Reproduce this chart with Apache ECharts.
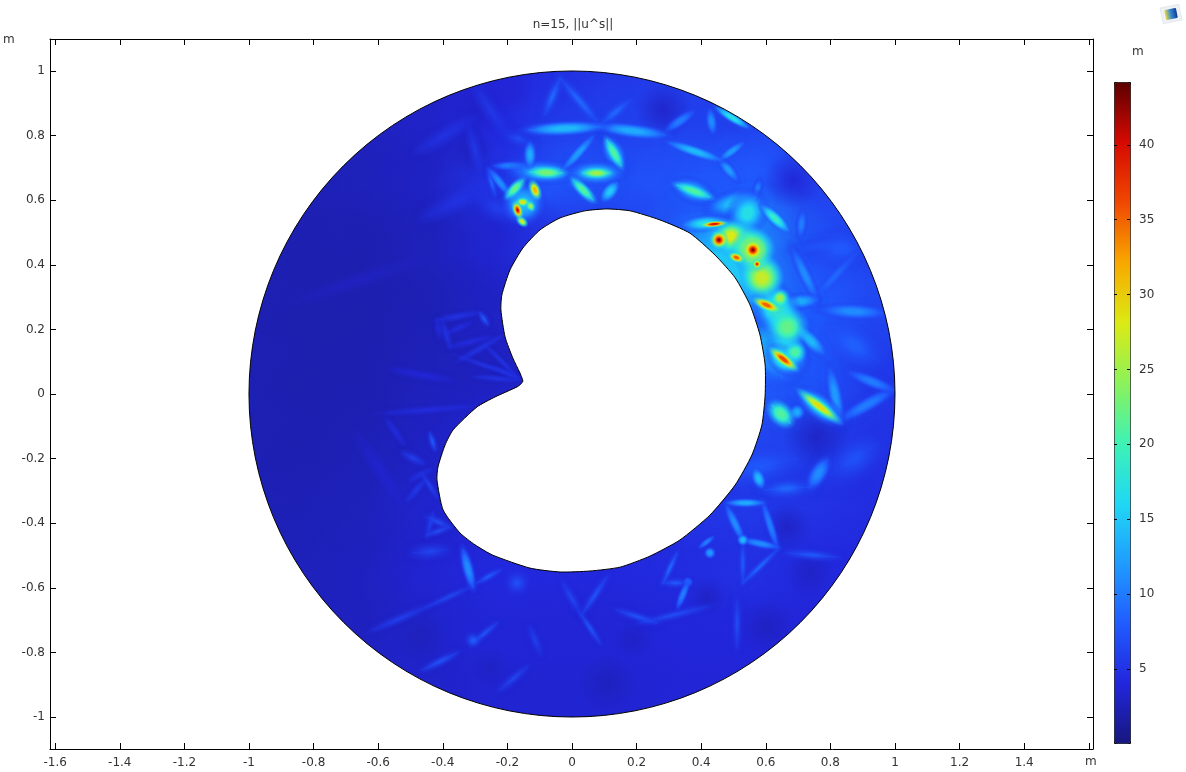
<!DOCTYPE html>
<html><head><meta charset="utf-8">
<style>html,body{margin:0;padding:0;background:#fff}#c{width:1186px;height:772px}</style>
<script src="https://cdn.jsdelivr.net/npm/echarts@6/dist/echarts.min.js"></script>
</head><body><div id="c"></div>
<script>
// ---- axes ----
const xTicks=[-1.6,-1.4,-1.2,-1,-0.8,-0.6,-0.4,-0.2,0,0.2,0.4,0.6,0.8,1,1.2,1.4,1.6];
const xLabels=[-1.6,-1.4,-1.2,-1,-0.8,-0.6,-0.4,-0.2,0,0.2,0.4,0.6,0.8,1,1.2,1.4];
const yTicks=[-1,-0.8,-0.6,-0.4,-0.2,0,0.2,0.4,0.6,0.8,1];
const barTicks=[5,10,15,20,25,30,35,40];
const valueMin=0.05, valueMax=44.2;
const rainbow=['#17177f','#2226dc','#205cff','#1f9cff','#20d8f4','#3ef2b4','#8cf25a','#dcea14','#f8a800','#f04800','#d60a00','#5c0000'];
// ---- coarse field, read on a 0.2 m grid (null = outside the disc) ----
const fieldX=[-1,-0.8,-0.6,-0.4,-0.2,0,0.2,0.4,0.6,0.8,1];
const fieldY=[1,0.8,0.6,0.4,0.2,0,-0.2,-0.4,-0.6,-0.8,-1];
const fieldRows=[
[null,null,null,3.2,3.8,4.5,5,5.5,null,null,null],
[null,null,2.8,3.2,4,5.5,6,6,6,6,null],
[null,2.4,2.6,3,5,7.5,7,7.5,8,6,null],
[2.4,2.2,2.2,2.6,3.5,5,6,9,11,7,6],
[2.4,2.1,2.1,2.4,3,4,6,8,10,8,6.5],
[2.4,2.1,2.2,2.6,2.8,3.5,5,7,8.5,7.5,5.5],
[2.4,2.2,2.4,3,3.5,3.5,4.5,5,6.5,6,5],
[2.4,2.4,2.6,3.4,3.6,3.6,4.5,5,5.5,5,4.5],
[null,2.6,2.8,3.6,4.2,4.2,4.2,4.5,4.8,4.2,null],
[null,null,2.8,3.4,3.8,3.8,3.8,4,4,3.8,null],
[null,null,null,3.2,3.6,3.6,3.6,3.8,3.8,null,null]];
// ---- inner boundary ----
const holeX=[-0.155,-0.161,-0.183,-0.207,-0.22,-0.217,-0.192,-0.152,-0.099,-0.037,0.04,0.108,0.18,0.272,0.365,0.443,0.505,0.551,0.582,0.598,0.598,0.588,0.557,0.505,0.427,0.334,0.241,0.149,0.056,-0.037,-0.13,-0.245,-0.3,-0.347,-0.399,-0.418,-0.415,-0.393,-0.368,-0.294,-0.238,-0.17,-0.158,-0.152];
const holeY=[0.05,0.065,0.111,0.176,0.26,0.307,0.384,0.452,0.508,0.545,0.567,0.573,0.567,0.539,0.498,0.43,0.36,0.276,0.183,0.09,-0.003,-0.096,-0.189,-0.282,-0.375,-0.452,-0.502,-0.536,-0.548,-0.551,-0.539,-0.499,-0.467,-0.43,-0.359,-0.266,-0.226,-0.158,-0.111,-0.04,-0.009,0.022,0.031,0.04];
// ---- local features of the field: x1,y1,x2,y2,half width (m),peak value ----
const ridgesTop=[
[-0.133,0.817,0.087,0.827,0.018,14],[0.087,0.827,0.288,0.802,0.018,13],[0.087,0.833,-0.037,0.978,0.016,9],[0.087,0.833,0.18,0.91,0.016,9],[-0.037,0.978,-0.084,0.864,0.016,9],
[0.108,0.786,0.152,0.706,0.028,12],[0.108,0.786,0.152,0.706,0.016,21],[0,0.684,0.15,0.684,0.03,13],[0.034,0.684,0.118,0.684,0.016,25],[-0.18,0.69,0,0.684,0.03,12],[-0.13,0.687,-0.028,0.684,0.018,23],
[0.003,0.663,0.065,0.601,0.016,21],[0.139,0.653,0.096,0.601,0.018,15],[-0.152,0.662,-0.201,0.61,0.016,22],[-0.124,0.656,-0.105,0.607,0.016,31],[-0.176,0.591,-0.161,0.548,0.014,43],
[-0.17,0.594,-0.136,0.594,0.013,29],[-0.136,0.594,-0.121,0.57,0.012,25],[-0.167,0.545,-0.142,0.523,0.012,27],[-0.15,0.59,-0.15,0.59,0.05,14],
[-0.238,0.706,-0.13,0.706,0.012,11],[-0.254,0.693,-0.192,0.616,0.012,11],[-0.26,0.693,-0.238,0.616,0.01,9],[-0.13,0.777,-0.13,0.703,0.016,13],[-0.028,0.693,0.065,0.796,0.013,12],
[0.303,0.777,0.458,0.725,0.014,14],[0.458,0.725,0.511,0.663,0.014,12],[0.325,0.647,0.427,0.61,0.03,13],[0.325,0.647,0.427,0.61,0.016,21],[0.458,0.725,0.53,0.777,0.012,12],[0.427,0.879,0.437,0.808,0.014,11],[0.449,0.885,0.542,0.827,0.012,17],[0.294,0.817,0.375,0.873,0.014,10],
[-0.47,0.755,-0.316,0.848,0.02,5],[-0.316,0.817,-0.285,0.693,0.016,5.5],[-0.3,0.95,-0.2,0.8,0.02,5.5],[-0.2,0.8,-0.13,0.78,0.02,7],[-0.45,0.55,-0.25,0.65,0.025,5],[-0.28,0.6,-0.18,0.55,0.03,6],
[-0.3,0.88,-0.3,0.88,0.06,3.2],[-0.19,0.94,-0.19,0.94,0.05,3.8],[-0.316,0.755,-0.316,0.755,0.05,2.8],[0.282,0.879,0.282,0.879,0.06,3.2],[0.684,0.663,0.684,0.663,0.06,3.8]];
const ridgesHot=[
[0.567,0.61,0.427,0.57,0.03,14],[0.567,0.61,0.582,0.663,0.012,10],[0.591,0.579,0.666,0.508,0.016,19],[0.567,0.61,0.52,0.51,0.045,17],[0.715,0.567,0.706,0.485,0.014,10],
[0.35,0.53,0.6,0.25,0.09,15],[0.6,0.25,0.65,0.05,0.08,14],[0.44,0.5,0.6,0.45,0.05,23],[0.55,0.42,0.62,0.33,0.05,26],[0.6,0.32,0.67,0.2,0.05,20],[0.63,0.18,0.7,0.08,0.045,18],
[0.35,0.523,0.474,0.533,0.02,17],[0.406,0.523,0.474,0.529,0.009,39],[0.455,0.477,0.53,0.5,0.04,28],[0.455,0.477,0.455,0.477,0.024,45],[0.56,0.446,0.56,0.446,0.055,28],[0.56,0.446,0.56,0.446,0.026,45],
[0.489,0.43,0.529,0.415,0.014,35],[0.573,0.402,0.573,0.402,0.012,37],[0.588,0.359,0.588,0.359,0.055,27],[0.567,0.291,0.638,0.26,0.016,35],[0.644,0.297,0.644,0.297,0.025,25],
[0.666,0.207,0.666,0.207,0.055,22],[0.619,0.136,0.69,0.08,0.032,20],[0.619,0.136,0.69,0.08,0.016,36],[0.69,0.13,0.69,0.13,0.03,21],[0.712,0.003,0.82,-0.08,0.03,15],[0.712,0.003,0.82,-0.08,0.017,29],[0.619,-0.034,0.675,-0.09,0.03,21],[0.697,-0.056,0.697,-0.056,0.02,13]];
const ridgesRight=[
[0.684,0.446,0.759,0.291,0.016,11],[0.759,0.291,0.653,0.282,0.02,13],[0.684,0.446,0.839,0.467,0.02,8],[0.882,0.437,0.746,0.291,0.016,9],[0.963,0.251,0.777,0.26,0.02,11],[0.697,0.207,0.777,0.127,0.02,14],
[0.83,-0.08,0.994,0.012,0.018,10],[0.83,-0.08,0.799,0.074,0.018,12],[0.861,0.065,0.994,0.012,0.016,10],[0.551,0.322,0.613,0.207,0.024,13],
[0.75,0.45,0.92,0.45,0.05,8],[0.8,0.2,0.95,0.1,0.05,8.5],[0.8,-0.25,0.95,-0.15,0.05,7.5],[0.45,-0.25,0.7,-0.2,0.05,8],
[0.758,-0.133,0.758,-0.133,0.07,3],[0.666,-0.412,0.666,-0.412,0.05,3],[0.737,-0.554,0.737,-0.554,0.05,3],[0.604,-0.721,0.604,-0.721,0.06,2.8],[0.418,-0.628,0.418,-0.628,0.04,3]];
const ridgesLowerRight=[
[0.483,-0.337,0.591,-0.337,0.011,13],[0.591,-0.337,0.635,-0.474,0.011,10],[0.635,-0.474,0.529,-0.452,0.011,11],[0.529,-0.452,0.48,-0.35,0.012,11],[0.529,-0.452,0.529,-0.452,0.014,14],
[0.529,-0.585,0.635,-0.483,0.01,9],[0.529,-0.461,0.529,-0.585,0.01,8],[0.666,-0.492,0.82,-0.505,0.014,8],[0.567,-0.235,0.588,-0.288,0.016,14],[0.737,-0.288,0.789,-0.204,0.022,11],[0.591,-0.297,0.737,-0.288,0.025,9],
[0.427,-0.492,0.427,-0.492,0.014,12],[0.396,-0.474,0.437,-0.443,0.008,10],[0.359,-0.582,0.359,-0.582,0.012,9.5],[0.359,-0.582,0.328,-0.659,0.01,10],[0.325,-0.492,0.282,-0.585,0.01,9],[0.282,-0.585,0.359,-0.585,0.012,8],
[0.211,-0.709,0.418,-0.659,0.012,7],[0.511,-0.638,0.511,-0.783,0.012,7]];
const ridgesBottom=[
[-0.337,-0.483,-0.307,-0.598,0.014,11],[-0.294,-0.585,-0.223,-0.545,0.01,8],[-0.492,-0.492,-0.387,-0.483,0.02,6.5],[-0.616,-0.731,-0.449,-0.659,0.012,6],[-0.449,-0.659,-0.316,-0.598,0.01,6.5],
[-0.461,-0.854,-0.356,-0.802,0.012,7.5],[-0.307,-0.762,-0.307,-0.762,0.02,8.5],[-0.307,-0.771,-0.232,-0.709,0.011,7.5],[-0.223,-0.916,-0.139,-0.845,0.012,6.5],[-0.17,-0.585,-0.17,-0.585,0.03,7.5],
[0.025,-0.678,0.087,-0.771,0.01,7.5],[-0.028,-0.585,0.025,-0.678,0.012,6.5],[0.034,-0.678,0.108,-0.567,0.012,7.5],[0.139,-0.669,0.263,-0.709,0.012,7.5],[-0.13,-0.721,-0.099,-0.802,0.012,6],
[-0.47,-0.752,-0.47,-0.752,0.06,2.6],[0.108,-0.895,0.108,-0.895,0.06,2.7],[0.189,-0.76,0.189,-0.76,0.04,3],[-0.254,-0.845,-0.254,-0.845,0.04,3]];
const ridgesLeft=[
[-0.285,0.251,-0.26,0.214,0.01,8],[-0.44,-0.121,-0.424,-0.173,0.01,8],[-0.523,-0.183,-0.461,-0.214,0.012,6],[-0.449,-0.381,-0.378,-0.412,0.012,7],[-0.449,-0.437,-0.378,-0.412,0.01,7],[-0.43,-0.368,-0.449,-0.443,0.01,6],
[-0.263,0.146,-0.17,0.053,0.007,5],[-0.347,0.115,-0.17,0.053,0.007,5],[-0.573,-0.059,-0.325,-0.04,0.01,4.5],[-0.573,-0.08,-0.523,-0.152,0.01,4.5],[-0.418,0.229,-0.294,0.251,0.01,5],[-0.4,0.22,-0.378,0.146,0.01,5],
[-0.508,-0.328,-0.455,-0.266,0.01,5.5],[-0.842,0.291,-0.47,0.415,0.02,3],[-0.656,-0.142,-0.533,-0.328,0.02,3.6],
[-0.418,0.229,-0.409,0.176,0.009,4.5],[-0.384,0.189,-0.316,0.22,0.009,4.5],[-0.378,0.146,-0.254,0.176,0.009,4.5],[-0.347,0.105,-0.223,0.176,0.009,5],[-0.294,0.053,-0.17,0.043,0.008,5],[-0.245,0.084,-0.17,0.05,0.007,5],
[-0.548,0.074,-0.378,0.043,0.012,4],[-0.5,-0.266,-0.44,-0.235,0.01,5],[-0.461,-0.251,-0.418,-0.319,0.009,6]];

const ridges=[].concat(ridgesTop,ridgesHot,ridgesRight,ridgesLowerRight,ridgesBottom,ridgesLeft).sort((a,b)=>a[5]-b[5]);
const fieldData=[];
fieldRows.forEach((row,j)=>row.forEach((v,i)=>{if(v!==null)fieldData.push([fieldX[i],fieldY[j],v]);}));

const G=echarts.graphic, C=echarts.color;
const tone=v=>C.lerp(Math.min(1,Math.max(0,(v-valueMin)/(valueMax-valueMin))),rainbow);
const chart=echarts.init(document.getElementById('c'),null,{renderer:'canvas'});
const tickText={fontFamily:'DejaVu Sans',fontSize:12,color:'#333'};
const line={lineStyle:{color:'#000',width:1}};
const mainX=(pos,labels)=>({type:'value',position:pos,min:-1.616,max:1.613,z:20,axisLine:{show:true,onZero:false,...line},splitLine:{show:false},
  axisTick:{show:true,inside:true,length:6,customValues:xTicks,...line},axisLabel:{show:labels,margin:8,customValues:xLabels,...tickText}});
const mainY=(pos,labels)=>({type:'value',position:pos,min:-1.099,max:1.099,z:20,axisLine:{show:true,onZero:false,...line},splitLine:{show:false},
  axisTick:{show:true,inside:true,length:6,customValues:yTicks,...line},axisLabel:{show:labels,margin:5,padding:[2,0,0,0],customValues:yTicks,...tickText}});
const barY=(pos,labels)=>({type:'value',gridIndex:1,position:pos,min:valueMin,max:valueMax,z:20,axisLine:{show:false},splitLine:{show:false},
  axisTick:{show:true,inside:true,length:3,customValues:barTicks,...line},axisLabel:{show:labels,margin:9,padding:[2,0,0,0],customValues:barTicks,...tickText}});
const onMain={coordinateSystem:'cartesian2d',xAxisIndex:0,yAxisIndex:0,clip:true,silent:true};
const unit={fontFamily:'DejaVu Sans',fontSize:12,fill:'#333'};

// colours of a feature from its spine (t=0) to its edge (t=1)
function section(pk,n){
  const base=pk>20?12:Math.min(pk,5),out=[];
  for(let k=0;k<=n;k++){const t=k/n,vt=pk>=40?t:(t<.2?0:(t-.2)/.8);
    const al=pk<=9?0.9*(1-t):(pk>20?(t<.4?1:(1-t)/.6):(t<.5?1:(1-t)/.5));
    out.push({offset:t,color:C.modifyAlpha(tone(pk-(pk-base)*vt),al)});}
  return out;
}
function feature(p,api){
  const a=api.coord([api.value(0),api.value(1)]),b=api.coord([api.value(2),api.value(3)]);
  const pk=api.value(5),hw=api.size([api.value(4),0])[0]*(pk>20?1.3:1.5);
  const len=Math.hypot(b[0]-a[0],b[1]-a[1]);
  const blob={type:'circle',x:(a[0]+b[0])/2,y:(a[1]+b[1])/2,rotation:-Math.atan2(b[1]-a[1],b[0]-a[0]),
    scaleX:Math.max(len*0.72,hw),scaleY:hw,shape:{cx:0,cy:0,r:1},style:{fill:new G.RadialGradient(.5,.5,.5,section(pk,10))}};
  if(pk>=26||len<hw*1.5||pk<=3.8) return blob;
  const v=Math.max(pk*0.85,3),c=tone(v);
  return{type:'group',children:[
    {type:'line',shape:{x1:a[0],y1:a[1],x2:b[0],y2:b[1]},
     style:{stroke:C.modifyAlpha(c,0.5),lineWidth:1.5,lineCap:'round',shadowBlur:Math.max(hw*1.2,4),shadowColor:c}},blob]};
}

chart.setOption({
 animation:false,backgroundColor:'#fff',
 title:{text:'n=15, ||u^s||',left:568,top:14,textAlign:'center',textStyle:{fontFamily:'DejaVu Sans',fontSize:12,fontWeight:'normal',color:'#333'}},
 grid:[{left:50,right:93,top:39,bottom:23},{left:1114,width:16,top:82,height:661}],
 xAxis:[mainX('bottom',true),mainX('top',false),{type:'value',gridIndex:1,show:false,min:0,max:1}],
 yAxis:[mainY('left',true),mainY('right',false),barY('left',false),barY('right',true)],
 visualMap:{type:'continuous',seriesIndex:1,dimension:2,min:valueMin,max:valueMax,left:1114,top:82,itemWidth:16,itemHeight:661,padding:0,
   showLabel:false,text:null,calculable:false,hoverLink:false,borderColor:'#000',borderWidth:1,inRange:{color:rainbow}},
 graphic:[
  {type:'text',left:3,top:34,style:{text:'m',...unit}},
  {type:'text',left:1085,top:756,style:{text:'m',...unit}},
  {type:'text',left:1132,top:46,style:{text:'m',...unit}},
  {type:'group',x:1171,y:14,rotation:0.2,children:[
    {type:'rect',shape:{x:-9.5,y:-8,width:19,height:16},style:{fill:'#eef2f6',stroke:'#e2e7ec'}},
    {type:'rect',shape:{x:-6,y:-5,width:12,height:10,r:1},style:{fill:new G.LinearGradient(0,0,1,0,[{offset:0,color:'#f0d840'},{offset:.5,color:'#2f86d8'},{offset:1,color:'#173a86'}])}}]}
 ],
 series:[
  {...onMain,type:'custom',name:'background',z:3,data:[[0,0,1]],renderItem:(p,api)=>{
    const c=api.coord([0,0]);return{type:'circle',shape:{cx:c[0],cy:c[1],r:api.size([api.value(2),0])[0]},style:{fill:tone(3)}};}},
  {...onMain,type:'custom',name:'field',z:4,data:fieldData,encode:{x:0,y:1},renderItem:(p,api)=>{
    const c=api.coord([api.value(0),api.value(1)]),col=api.visual('color');
    return{type:'circle',shape:{cx:c[0],cy:c[1],r:api.size([0.25,0])[0]},style:{fill:new G.RadialGradient(.5,.5,.5,[
      {offset:0,color:col},{offset:.3,color:col},{offset:1,color:C.modifyAlpha(col,0)}])}};}},
  {...onMain,type:'custom',name:'features',z:5,data:ridges,encode:{x:[0,2],y:[1,3]},renderItem:feature},
  {...onMain,type:'custom',name:'outer',z:8,data:[[0,0,1]],renderItem:(p,api)=>{
    const c=api.coord([0,0]),r=api.size([api.value(2),0])[0];
    return{type:'group',children:[
      {type:'ring',shape:{cx:c[0],cy:c[1],r:900,r0:r},style:{fill:'#fff'}},
      {type:'circle',shape:{cx:c[0],cy:c[1],r:r},style:{fill:'none',stroke:'#000',lineWidth:1}}]};}},
  {...onMain,type:'custom',name:'hole',z:8,data:[[0,0]],renderItem:(p,api)=>({type:'polygon',
    shape:{points:holeX.map((x,i)=>api.coord([x,holeY[i]])),smooth:0.2},style:{fill:'#fff',stroke:'#000',lineWidth:1}})}
 ]
});
</script></body></html>
